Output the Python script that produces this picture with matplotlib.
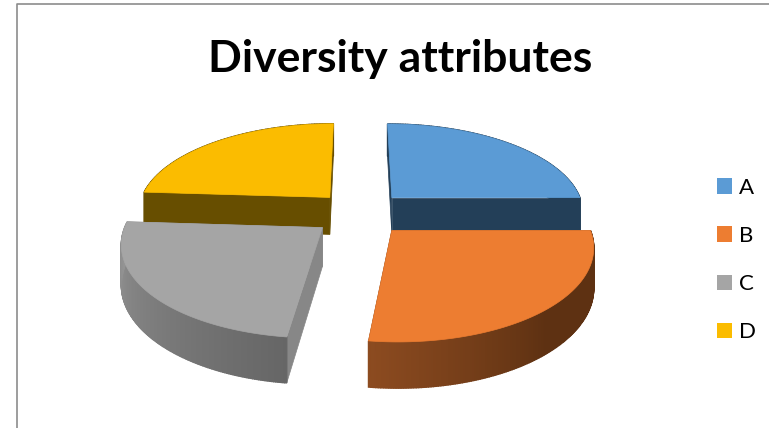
import numpy as np
import matplotlib
matplotlib.use('Agg')
import matplotlib.pyplot as plt
from matplotlib.patches import Patch, Polygon
from matplotlib.colors import to_rgb

# Data
labels = ['A', 'B', 'C', 'D']
values = [25, 27, 24, 24]
title = 'Diversity attributes'

# Colours
top_colors = ['#5b9bd5', '#ed7d31', '#a5a5a5', '#fbbc00']
cut_colors = ['#233f58', '#5e3112', '#878787', '#674e00']
rim_light = ['#233f58', '#8c4b20', '#666666', '#674e00']
rim_dark = ['#233f58', '#5e3112', '#959595', '#674e00']

# Pie geometry, in pixels of the picture
cx, cy = 358, 213
R, Ry, H = 193, 89, 38
k = 0.15        # perspective strength
explode_x = [0.18, 0.17, 0.18, 0.15]
explode_y = [0.177, 0.19, 0.16, 0.18]


def project(u, v, h=0.0):
    p = 1 / (1 - k * v)
    return cx + R * u * p, cy + Ry * v * p + H * h * p


def ring_points(a, b, n, ox, oy, h):
    angles = np.radians(np.linspace(a, b, n))
    return [project(ox + np.sin(t), oy - np.cos(t), h) for t in angles]


def draw_slice(ax, start, end, i):
    mid = np.radians((start + end) / 2)
    ox = explode_x[i] * np.sign(np.sin(mid))
    oy = -explode_y[i] * np.sign(np.cos(mid))
    apex = project(ox, oy)
    apex_low = project(ox, oy, 1)
    edge = ring_points(start, end, 160, ox, oy, 0)
    edge_low = ring_points(start, end, 160, ox, oy, 1)

    # the two cut faces
    for p, q in [(edge[0], edge_low[0]), (edge[-1], edge_low[-1])]:
        ax.add_patch(Polygon([apex, p, q, apex_low], facecolor=cut_colors[i],
                             edgecolor=cut_colors[i], lw=0.5))

    # outer rim, split in strips for the gradient
    light, dark = np.array(to_rgb(rim_light[i])), np.array(to_rgb(rim_dark[i]))
    for j in range(len(edge) - 1):
        f = j / (len(edge) - 2)
        # the rim of B reaches its dark tone about halfway
        if i == 1:
            f = min(1.0, (1 - f) * 2)
        col = light + (dark - light) * f
        quad = [edge[j], edge[j + 1], edge_low[j + 1], edge_low[j]]
        ax.add_patch(Polygon(quad, facecolor=col, edgecolor=col, lw=1.0))

    # top of the slice
    ax.add_patch(Polygon([apex] + edge, facecolor=top_colors[i],
                         edgecolor=top_colors[i], lw=0.5))


plt.rcParams['font.family'] = ['Lato', 'DejaVu Sans']
fig = plt.figure(figsize=(7.69, 4.28), dpi=100)
ax = fig.add_axes([0, 0, 1, 1])
ax.set_xlim(0, 769)
ax.set_ylim(428, 0)
ax.axis('off')

# Angles of the slices, clockwise from the top
stops = np.concatenate([[0], np.cumsum(values)]) / sum(values) * 360

# back slices first, front slices on top of them
for i in [0, 3, 2, 1]:
    draw_slice(ax, stops[i], stops[i + 1], i)

# Chart frame
ax.plot([17, 17, 769], [428, 4, 4], color='#8c8c8c', lw=1.2)

ax.text(400, 59, title, fontsize=32, fontweight='bold', ha='center', va='center')

handles = [Patch(facecolor=c, edgecolor='none') for c in top_colors]
ax.legend(handles, labels, loc='center left', bbox_to_anchor=(717 / 769, 1 - 260 / 428),
          frameon=False, fontsize=16, handlelength=0.68, handleheight=0.68,
          handletextpad=0.32, labelspacing=1.27, borderpad=0, borderaxespad=0)

fig.savefig('out.png', dpi=100)
